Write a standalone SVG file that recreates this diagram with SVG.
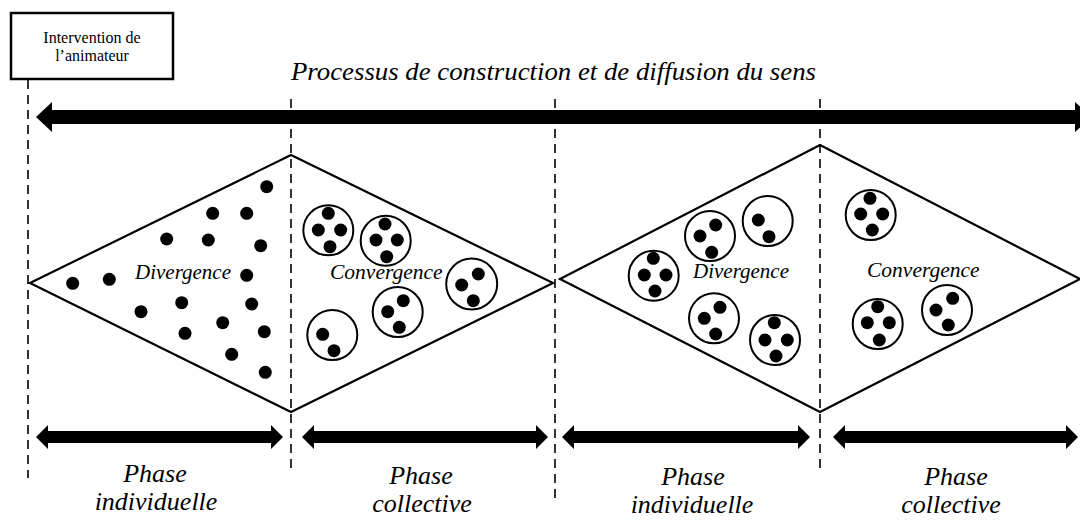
<svg xmlns="http://www.w3.org/2000/svg" width="1080" height="520" viewBox="0 0 1080 520">
<style>
.bg{fill:#fff}
.box{fill:#fff;stroke:#000;stroke-width:2.5}
.dash{stroke:#000;stroke-width:1.6;stroke-dasharray:9 6;fill:none}
.dia{fill:#fff;stroke:#000;stroke-width:2.2;stroke-linejoin:miter}
.grp{fill:none;stroke:#000;stroke-width:2}
.dot{fill:#000}
.arr{fill:#000}
.t{font-family:"Liberation Serif","Times New Roman",serif;fill:#000}
.it{font-style:italic}
.ph{font-size:26px;text-anchor:middle}
</style>
<rect class="bg" x="0" y="0" width="1080" height="520"/>

<g id="animateur">
  <rect class="box" x="11" y="13" width="162" height="66"/>
  <text class="t" x="92" y="43" font-size="16" text-anchor="middle">Intervention de</text>
  <text class="t" x="92" y="61" font-size="16" text-anchor="middle">l’animateur</text>
</g>

<g id="titre">
  <text class="t it" x="291" y="80" font-size="25.5" textLength="525" lengthAdjust="spacingAndGlyphs">Processus de construction et de diffusion du sens</text>
</g>

<g id="losange1">
  <polygon class="dia" points="30,283 291,155 553,283 291,412"/>
</g>
<g id="losange2">
  <polygon class="dia" points="560,279 820,145 1080,279 820,412"/>
</g>

<g id="separateurs">
  <line class="dash" x1="28" y1="80" x2="28" y2="478"/>
  <line class="dash" x1="291" y1="99" x2="291" y2="470"/>
  <line class="dash" x1="555" y1="99" x2="555" y2="500" stroke-width="2"/>
  <line class="dash" x1="820" y1="99" x2="820" y2="468"/>
</g>

<g id="connecteurs">
  <polygon class="arr" points="36,117 52,102 52,110 1075,110 1075,102 1092,117 1075,132 1075,124 52,124 52,132"/>
  <polygon class="arr" points="36,437 48,425 48,431 271,431 271,425 283,437 271,449 271,443 48,443 48,449"/>
  <polygon class="arr" points="302,437 314,425 314,431 536,431 536,425 548,437 536,449 536,443 314,443 314,449"/>
  <polygon class="arr" points="562,437 574,425 574,431 798,431 798,425 810,437 798,449 798,443 574,443 574,449"/>
  <polygon class="arr" points="833,437 845,425 845,431 1066,431 1066,425 1078,437 1066,449 1066,443 845,443 845,449"/>
</g>

<g id="divergence1">
  <circle class="dot" cx="266.7" cy="186.7" r="6.5"/>
  <circle class="dot" cx="212.7" cy="213.3" r="6.5"/>
  <circle class="dot" cx="246.7" cy="213.3" r="6.5"/>
  <circle class="dot" cx="166.7" cy="239" r="6.5"/>
  <circle class="dot" cx="208.3" cy="240" r="6.5"/>
  <circle class="dot" cx="260.7" cy="245.7" r="6.5"/>
  <circle class="dot" cx="246.7" cy="275.3" r="6.5"/>
  <circle class="dot" cx="72.7" cy="283.3" r="6.5"/>
  <circle class="dot" cx="109.3" cy="279.3" r="6.5"/>
  <circle class="dot" cx="181.7" cy="302.7" r="6.5"/>
  <circle class="dot" cx="251.7" cy="304" r="6.5"/>
  <circle class="dot" cx="141" cy="311.7" r="6.5"/>
  <circle class="dot" cx="222.7" cy="322.7" r="6.5"/>
  <circle class="dot" cx="264.3" cy="331.7" r="6.5"/>
  <circle class="dot" cx="185" cy="333.3" r="6.5"/>
  <circle class="dot" cx="231.7" cy="354.3" r="6.5"/>
  <circle class="dot" cx="265.3" cy="372.3" r="6.5"/>
  <text class="t it" x="135" y="279" font-size="21">Divergence</text>
</g>

<g id="convergence1">
  <circle class="grp" cx="328.3" cy="230.3" r="25"/>
  <circle class="dot" cx="328.3" cy="213.3" r="6.5"/>
  <circle class="dot" cx="318.3" cy="230" r="6.5"/>
  <circle class="dot" cx="340.7" cy="230" r="6.5"/>
  <circle class="dot" cx="330" cy="246.7" r="6.5"/>
  <circle class="grp" cx="385.7" cy="240.7" r="25"/>
  <circle class="dot" cx="385" cy="224" r="6.5"/>
  <circle class="dot" cx="376" cy="240" r="6.5"/>
  <circle class="dot" cx="397.3" cy="240" r="6.5"/>
  <circle class="dot" cx="386.7" cy="256.7" r="6.5"/>
  <circle class="grp" cx="471.7" cy="284" r="25.5"/>
  <circle class="dot" cx="478.3" cy="274" r="6.5"/>
  <circle class="dot" cx="461.7" cy="285" r="6.5"/>
  <circle class="dot" cx="473.3" cy="300.7" r="6.5"/>
  <circle class="grp" cx="397.7" cy="312" r="25"/>
  <circle class="dot" cx="403.3" cy="300.7" r="6.5"/>
  <circle class="dot" cx="387.7" cy="311.7" r="6.5"/>
  <circle class="dot" cx="399.3" cy="327.3" r="6.5"/>
  <circle class="grp" cx="332.3" cy="335" r="25"/>
  <circle class="dot" cx="322.7" cy="334.3" r="6.5"/>
  <circle class="dot" cx="334" cy="350.7" r="6.5"/>
  <text class="t it" x="330" y="279" font-size="21.5">Convergence</text>
</g>

<g id="divergence2">
  <circle class="grp" cx="653.7" cy="275.7" r="25"/>
  <circle class="dot" cx="653.3" cy="258.3" r="6.5"/>
  <circle class="dot" cx="644.3" cy="275" r="6.5"/>
  <circle class="dot" cx="666" cy="275" r="6.5"/>
  <circle class="dot" cx="655" cy="291" r="6.5"/>
  <circle class="grp" cx="710" cy="236" r="25"/>
  <circle class="dot" cx="715.7" cy="225" r="6.5"/>
  <circle class="dot" cx="700" cy="236" r="6.5"/>
  <circle class="dot" cx="711.7" cy="252.3" r="6.5"/>
  <circle class="grp" cx="767.7" cy="221" r="25"/>
  <circle class="dot" cx="758.3" cy="220" r="6.5"/>
  <circle class="dot" cx="769" cy="236.7" r="6.5"/>
  <circle class="grp" cx="714" cy="318.3" r="25"/>
  <circle class="dot" cx="720" cy="307.3" r="6.5"/>
  <circle class="dot" cx="704.3" cy="318.3" r="6.5"/>
  <circle class="dot" cx="715.7" cy="334" r="6.5"/>
  <circle class="grp" cx="775" cy="340" r="25"/>
  <circle class="dot" cx="774.3" cy="322.7" r="6.5"/>
  <circle class="dot" cx="765" cy="340" r="6.5"/>
  <circle class="dot" cx="787.3" cy="340" r="6.5"/>
  <circle class="dot" cx="776" cy="356" r="6.5"/>
  <text class="t it" x="693" y="278" font-size="21">Divergence</text>
</g>

<g id="convergence2">
  <circle class="grp" cx="870.7" cy="215" r="25"/>
  <circle class="dot" cx="870" cy="198.3" r="6.5"/>
  <circle class="dot" cx="860.7" cy="214" r="6.5"/>
  <circle class="dot" cx="882.7" cy="214" r="6.5"/>
  <circle class="dot" cx="872.3" cy="230" r="6.5"/>
  <circle class="grp" cx="877.7" cy="324" r="25"/>
  <circle class="dot" cx="877.7" cy="306.7" r="6.5"/>
  <circle class="dot" cx="867.3" cy="322.7" r="6.5"/>
  <circle class="dot" cx="889.3" cy="322.7" r="6.5"/>
  <circle class="dot" cx="879.3" cy="340" r="6.5"/>
  <circle class="grp" cx="947" cy="310" r="25"/>
  <circle class="dot" cx="952.7" cy="298.3" r="6.5"/>
  <circle class="dot" cx="936" cy="310" r="6.5"/>
  <circle class="dot" cx="948.3" cy="325" r="6.5"/>
  <text class="t it" x="867" y="277" font-size="21.5">Convergence</text>
</g>

<g id="phase1">
  <text class="t it ph" x="155" y="482">Phase</text>
  <text class="t it ph" x="156" y="510">individuelle</text>
</g>
<g id="phase2">
  <text class="t it ph" x="421" y="484">Phase</text>
  <text class="t it ph" x="422" y="512">collective</text>
</g>
<g id="phase3">
  <text class="t it ph" x="693" y="485">Phase</text>
  <text class="t it ph" x="692" y="513">individuelle</text>
</g>
<g id="phase4">
  <text class="t it ph" x="956" y="485">Phase</text>
  <text class="t it ph" x="951" y="513">collective</text>
</g>
</svg>
